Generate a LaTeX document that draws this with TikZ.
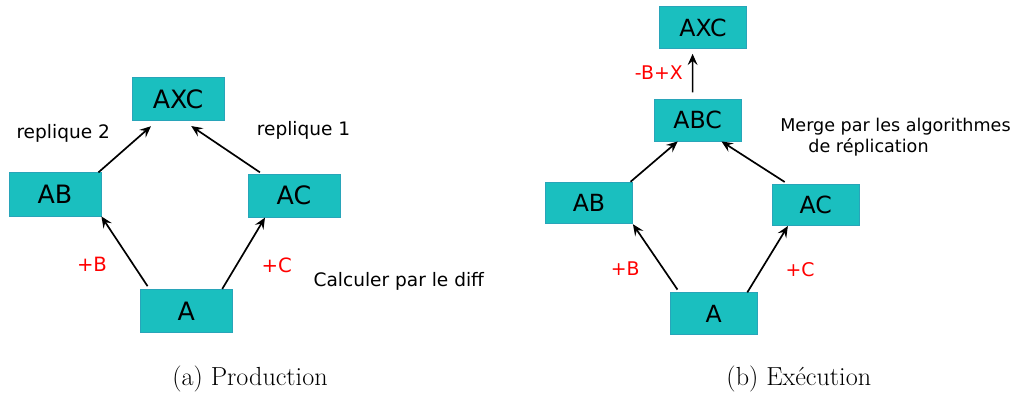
\documentclass[tikz,border=0pt]{standalone}
\usepackage{fontspec}
\usetikzlibrary{arrows.meta}
\newfontfamily\dejavu{DejaVu Sans}
\definecolor{boxfill}{RGB}{26,191,191}
\definecolor{boxline}{RGB}{40,165,185}
\tikzset{
  version/.style={draw=boxline,fill=boxfill,line width=0.6pt,minimum width=#1,minimum height=1.08cm,inner sep=0pt},
  version/.default=2.3cm,
  fleche/.style={-{Stealth[length=8pt,width=7pt,inset=3pt]},line width=1.2pt},
  diff/.style={text=red,font=\dejavu\fontsize{14}{16}\selectfont},
}
\begin{document}
\begin{tikzpicture}
  \useasboundingbox (0,0) rectangle (25.4,9.8);
  % (a) production
  \begin{scope}[every node/.append style={font=\dejavu\fontsize{13.2}{15.8}\selectfont}]
    \node[version,font=\dejavu\fontsize{18}{20}\selectfont] (axcA) at (4.45,7.325) {AXC};
    \node[version,font=\dejavu\fontsize{18}{20}\selectfont] (abA) at (1.375,4.94) {AB};
    \node[version,font=\dejavu\fontsize{18}{20}\selectfont] (acA) at (7.35,4.91) {AC};
    \node[version,font=\dejavu\fontsize{18}{20}\selectfont] (aA) at (4.66,2.025) {A};
    \draw[fleche] ([xshift=0.19cm,yshift=0.07cm]aA.north west) -- (abA.south east);
    \draw[fleche] ([xshift=-0.265cm]aA.north east) -- ([xshift=0.435cm]acA.south west);
    \draw[fleche] ([xshift=-0.075cm]abA.north east) -- ([xshift=0.485cm,yshift=-0.13cm]axcA.south west);
    \draw[fleche] ([xshift=0.31cm,yshift=0.03cm]acA.north west) -- ([xshift=-0.83cm,yshift=-0.125cm]axcA.south east);
    \node (rep2) at (1.58,6.47) {replique 2};
    \node (rep1) at (7.59,6.55) {replique 1};
    \node[diff] (plusbA) at (2.3,3.2) {+B};
    \node[diff] (pluscA) at (6.92,3.16) {+C};
    \node (calc) at (9.97,2.76) {Calculer par le diff};
  \end{scope}
  % (b) execution
  \begin{scope}[every node/.append style={font=\dejavu\fontsize{12.5}{15.5}\selectfont}]
    \node[version=2.175cm,minimum height=1.04cm,font=\dejavu\fontsize{16.8}{19}\selectfont] (axcB) at (17.575,9.11) {AXC};
    \node[version=2.175cm,minimum height=1.04cm,font=\dejavu\fontsize{16.8}{19}\selectfont] (abcB) at (17.44,6.795) {ABC};
    \node[version=2.175cm,minimum height=1.04cm,font=\dejavu\fontsize{16.8}{19}\selectfont] (abB) at (14.725,4.725) {AB};
    \node[version=2.175cm,minimum height=1.04cm,font=\dejavu\fontsize{16.8}{19}\selectfont] (acB) at (20.395,4.68) {AC};
    \node[version=2.175cm,minimum height=1.04cm,font=\dejavu\fontsize{16.8}{19}\selectfont] (aB) at (17.845,1.96) {A};
    \draw[fleche] ([xshift=0.19cm,yshift=0.07cm]aB.north west) -- (abB.south east);
    \draw[fleche] ([xshift=-0.26cm]aB.north east) -- ([xshift=0.4cm]acB.south west);
    \draw[fleche] ([xshift=-0.06cm]abB.north east) -- ([xshift=0.6cm]abcB.south west);
    \draw[fleche] ([xshift=0.32cm,yshift=0.04cm]acB.north west) -- ([xshift=-0.5cm]abcB.south east);
    \draw[fleche] ([xshift=-0.125cm,yshift=0.165cm]abcB.north) -- ([xshift=-0.26cm,yshift=-0.125cm]axcB.south);
    \node[diff,font=\dejavu\fontsize{13.4}{16}\selectfont] (moinsb) at (16.47,7.98) {-B+X};
    \node[anchor=west,align=left,inner sep=0pt] (merge) at (19.5,6.37) {Merge par les algorithmes\\\hspace*{20pt}de réplication};
    \node[diff,font=\dejavu\fontsize{13.4}{16}\selectfont] (plusbB) at (15.63,3.09) {+B};
    \node[diff,font=\dejavu\fontsize{13.4}{16}\selectfont] (pluscB) at (20.0,3.05) {+C};
  \end{scope}
  % captions
  \node[font=\fontsize{18.6}{21}\selectfont] (capA) at (6.25,0.33) {(a) Production};
  \node[font=\fontsize{18.6}{21}\selectfont] (capB) at (19.97,0.33) {(b) Exécution};
\end{tikzpicture}
\end{document}
